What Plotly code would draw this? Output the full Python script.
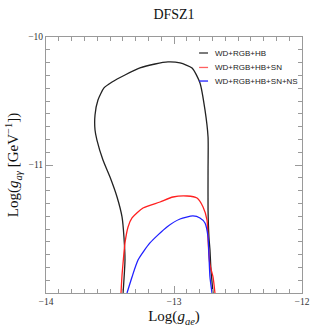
import plotly.graph_objects as go

# WD+RGB+HB contour (Log g_ae, Log g_agamma)
black_x = [-13.398, -13.383, -13.391, -13.406, -13.445, -13.50, -13.555, -13.602, -13.617, -13.617,
           -13.594, -13.547, -13.484, -13.383, -13.266, -13.148, -13.047, -12.953, -12.859, -12.797,
           -12.758, -12.734, -12.734, -12.734, -12.727, -12.719, -12.711, -12.695]
black_y = [-12.0, -11.742, -11.5625, -11.406, -11.25, -11.094, -10.961, -10.805, -10.727, -10.609,
           -10.492, -10.398, -10.352, -10.297, -10.242, -10.211, -10.195, -10.203, -10.242, -10.359,
           -10.570, -10.781, -11.039, -11.352, -11.5625, -11.664, -11.82, -12.0]

# WD+RGB+HB+SN contour
red_x = [-13.414, -13.406, -13.398, -13.383, -13.359, -13.328, -13.242, -13.109, -13.008, -12.898,
         -12.820, -12.773, -12.742, -12.734, -12.727, -12.719, -12.695, -12.680]
red_y = [-12.0, -11.859, -11.766, -11.609, -11.484, -11.414, -11.336, -11.289, -11.25, -11.242,
         -11.258, -11.328, -11.43, -11.586, -11.703, -11.781, -11.875, -12.0]

# WD+RGB+HB+SN+NS contour
blue_x = [-13.367, -13.328, -13.281, -13.188, -13.055, -12.953, -12.852, -12.797, -12.758, -12.734,
          -12.727, -12.719, -12.703]
blue_y = [-12.0, -11.875, -11.742, -11.609, -11.484, -11.422, -11.398, -11.414, -11.453, -11.5625,
          -11.703, -11.875, -12.0]

series_names = ["WD+RGB+HB", "WD+RGB+HB+SN", "WD+RGB+HB+SN+NS"]
series_colors = ["#222222", "#ff2020", "#2020ff"]
legend_swatch_colors = ["#333333", "#ff6060", "#2020ff"]
x_ticks = [-14, -13, -12]
y_ticks = [-10, -11]

serif = "Liberation Serif, Times New Roman, serif"
sans = "Liberation Sans, Arial, sans-serif"

fig = go.Figure()
for xs, ys, name, col in zip([black_x, red_x, blue_x], [black_y, red_y, blue_y], series_names, series_colors):
    fig.add_trace(go.Scatter(x=xs, y=ys, mode="lines", name=name, showlegend=False,
                             line=dict(color=col, width=1.3, shape="spline", smoothing=0.6)))

# manual legend (compact, like the reference)
legend_y = [0.9375, 0.881, 0.828]
for name, col, ly in zip(series_names, legend_swatch_colors, legend_y):
    fig.add_shape(type="line", xref="paper", yref="paper", x0=0.598, x1=0.633, y0=ly, y1=ly,
                  line=dict(color=col, width=1.3))
    fig.add_annotation(xref="paper", yref="paper", x=0.652, y=ly, xanchor="left", yanchor="middle",
                       text=name, showarrow=False, font=dict(family=sans, size=8, color="#222222"))

axis_common = dict(
    showgrid=False, zeroline=False, automargin=False, ticklabeloverflow="allow",
    showline=True, linecolor="#9a9a9a", linewidth=1, mirror="ticks",
    ticks="inside", ticklen=7, tickcolor="#9a9a9a", tickwidth=1,
    minor=dict(dtick=0.1, ticks="inside", ticklen=4, tickcolor="#9a9a9a", tickwidth=1),
    tickfont=dict(family=serif, size=9.5, color="#333333"),
)

fig.update_layout(
    width=312, height=336,
    margin=dict(l=46, r=10, t=37, b=43),
    paper_bgcolor="white", plot_bgcolor="white",
    title=dict(text="DFSZ1", x=174 / 312, xanchor="center", y=1 - 14 / 336, yanchor="middle",
               yref="container", font=dict(family=serif, size=14, color="#111111")),
    xaxis=dict(range=[-14, -12], tickvals=x_ticks, ticktext=["\u221214", "\u221213", "\u221212"],
               title=dict(text="Log(<i>g</i><sub><i>ae</i></sub>)", standoff=4,
                          font=dict(family=serif, size=15, color="#111111")),
               **axis_common),
    yaxis=dict(range=[-12, -10], tickvals=y_ticks, ticktext=["\u221210", "\u221211"],
               title=dict(text="Log(<i>g</i><sub><i>a\u03b3</i></sub> [GeV<sup>\u22121</sup>])", standoff=5,
                          font=dict(family=serif, size=15, color="#111111")),
               **axis_common),
    showlegend=False,
)

# remove the default page margin so the figure fills the 312x336 window exactly; hide the modebar
fig.write_html("out.html",
               config={"displayModeBar": False},
               post_script="document.body.style.margin='0';document.documentElement.style.overflow='hidden';")
